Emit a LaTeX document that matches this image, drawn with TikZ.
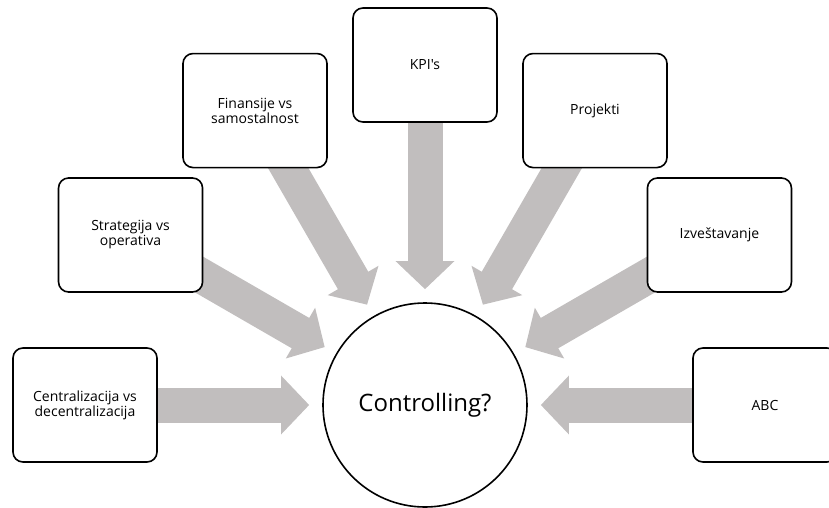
\documentclass[tikz,border=0pt]{standalone}
\usepackage{fontspec}
\setmainfont{Open Sans}[Ligatures=TeXOff]
\usepackage{tikz}
\usetikzlibrary{arrows.meta, backgrounds}
\definecolor{arrowgray}{RGB}{193,190,190}

\begin{document}
\begin{tikzpicture}[
  x=1pt, y=1pt,
  every node/.style={font=\fontsize{14}{15}\selectfont},
  topic/.style={rectangle, draw, line width=1.6pt, rounded corners=10pt, fill=white,
                minimum width=144pt, minimum height=114pt, align=center},
  hub/.style={circle, draw, line width=1.6pt, fill=white, minimum size=204pt,
              font=\fontsize{24}{28}\selectfont},
  bigarr/.style={-{Triangle[width=57pt, length=28pt]}, line width=35pt,
                 draw=arrowgray, shorten >=13pt},
]
  \useasboundingbox (-425,-102) rectangle (404,405);

  % Center
  \node[hub] (ctrl) at (0,0) {Controlling?};

  % Topic boxes
  \node[topic] (central) at (180:340) {Centralizacija vs\\decentralizacija};
  \node[topic] (strat) at (150:340) {Strategija vs\\operativa};
  \node[topic] (fin) at (120:340) {Finansije vs\\samostalnost};
  \node[topic] (kpi) at (90:340) {KPI's};
  \node[topic] (proj) at (60:340) {Projekti};
  \node[topic] (izv) at (30:340) {Izveštavanje};
  \node[topic] (abc) at (0:340) {ABC};

  % Arrows
  \begin{scope}[on background layer]
    \draw[bigarr] (central.center) -- (ctrl);
    \draw[bigarr] (strat.center) -- (ctrl);
    \draw[bigarr] (fin.center) -- (ctrl);
    \draw[bigarr] (kpi.center) -- (ctrl);
    \draw[bigarr] (proj.center) -- (ctrl);
    \draw[bigarr] (izv.center) -- (ctrl);
    \draw[bigarr] (abc.center) -- (ctrl);
  \end{scope}
\end{tikzpicture}
\end{document}
